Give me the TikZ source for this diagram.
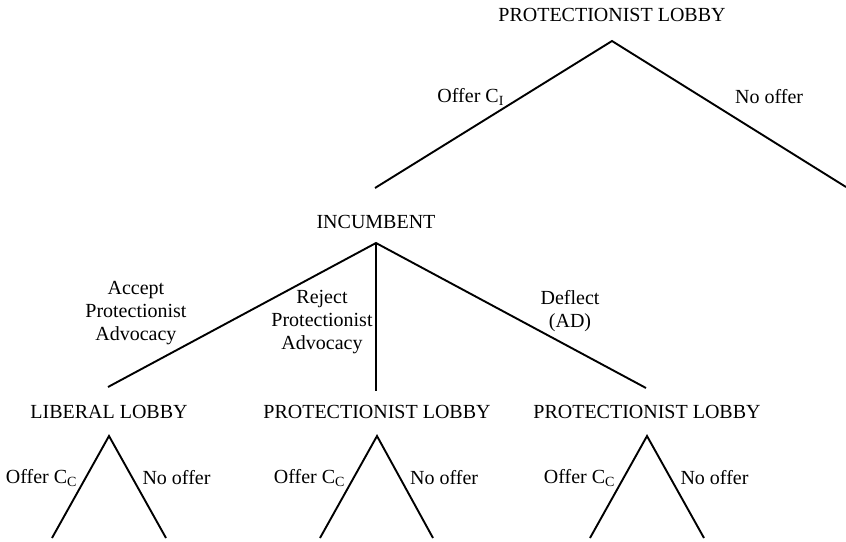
\documentclass[tikz,border=0pt]{standalone}
\usepackage{fontspec}
\setmainfont{Liberation Serif}
\usetikzlibrary{positioning}

\begin{document}
\begin{tikzpicture}[x=1pt, y=-1pt, line width=1.9pt, line join=miter,
                    every node/.style={font=\fontsize{20}{23}\selectfont, inner sep=0pt},
                    choice/.style={align=center}]
                    \useasboundingbox (0,0) rectangle (846,541);

                    % decision points and branch ends
                    \coordinate (t) at (612,41);
                    \coordinate (t1) at (375,188);
                    \coordinate (t2) at (846,187);

                    \coordinate (inc) at (376,243);
                    \coordinate (i1) at (108,387);
                    \coordinate (i2) at (376,391);
                    \coordinate (i3) at (646,388);

                    \coordinate (lib) at (109,436);
                    \coordinate (f1l) at (52,538);
                    \coordinate (f1r) at (166,538);
                    \coordinate (pro) at (377,436);
                    \coordinate (f2l) at (320,538);
                    \coordinate (f2r) at (433,538);
                    \coordinate (dfl) at (647,436);
                    \coordinate (f3l) at (590,538);
                    \coordinate (f3r) at (704,538);

                    % players
                    \node (p0) [above=18pt of t]{PROTECTIONIST LOBBY};
                    \node (p1) [above=13pt of inc]{INCUMBENT};
                    \node (p2) [above=16pt of lib]{LIBERAL LOBBY};
                    \node (p3) [above=16pt of pro]{PROTECTIONIST LOBBY};
                    \node (p4) [above=16pt of dfl]{PROTECTIONIST LOBBY};

                    \draw (t1) -- node[pos=.619, xshift=-51pt](c1){Offer C\textsubscript{I}}
                          (t) -- node[pos=.381, xshift=68pt](c2){No offer} (t2);

                    \draw (i1) -- node[choice, pos=.517, xshift=-110.6pt](c3){Accept\\Protectionist\\Advocacy}
                          (inc) -- node[choice, pos=.469, xshift=67.4pt](c5){Deflect\\(AD)} (i3);
                    \draw (inc) -- node[choice, pos=.534, xshift=-54pt](c4){Reject\\Protectionist\\Advocacy} (i2);

                    \draw (f1l) -- node[pos=.588, xshift=-44pt](c6){Offer C\textsubscript{C}}
                          (lib) -- node[pos=.412, xshift=44pt](c7){No offer} (f1r);
                    \draw (f2l) -- node[pos=.588, xshift=-44pt](c8){Offer C\textsubscript{C}}
                          (pro) -- node[pos=.412, xshift=44pt](c9){No offer} (f2r);
                    \draw (f3l) -- node[pos=.588, xshift=-44pt](c10){Offer C\textsubscript{C}}
                          (dfl) -- node[pos=.412, xshift=44pt](c11){No offer} (f3r);

                \end{tikzpicture}
\end{document}
